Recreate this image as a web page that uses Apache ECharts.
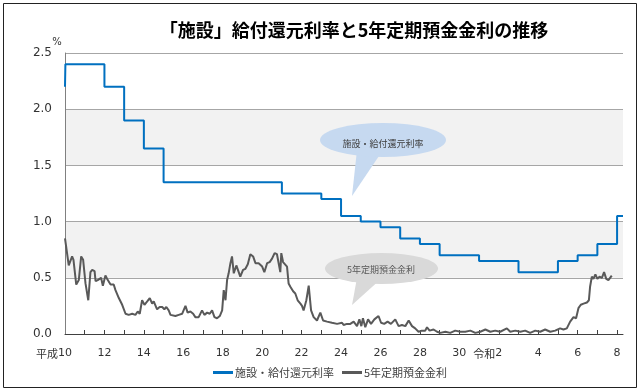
<!DOCTYPE html>
<html><head><meta charset="utf-8">
<script src="https://cdn.jsdelivr.net/npm/echarts@6/dist/echarts.min.js"></script>
<style>html,body{margin:0;padding:0;background:#fff}#c{width:641px;height:391px}</style>
</head><body><div id="c"></div>
<script>
const titleText = '「施設」給付還元利率と5年定期預金金利の推移';
const seriesNames = ['施設・給付還元利率', '5年定期預金金利'];
const unitText = '%';

const xLabelYears = [1998, 2000, 2002, 2004, 2006, 2008, 2010, 2012, 2014, 2016, 2018, 2020, 2022, 2024, 2026];
const xLabelTexts = ['平成10', '12', '14', '16', '18', '20', '22', '24', '26', '28', '30', '令和2', '4', '6', '8'];
const xTickYears = [1999, 2000, 2001, 2002, 2003, 2004, 2005, 2006, 2007, 2008, 2009, 2010, 2011, 2012,
  2013, 2014, 2015, 2016, 2017, 2018, 2019, 2020, 2021, 2022, 2023, 2024, 2025, 2026];

// 施設・給付還元利率 (step changes)
const rateT = [1998.0, 1998.02, 2000, 2001, 2002, 2003, 2009, 2011, 2012, 2013, 2014, 2015, 2016, 2017, 2019, 2021, 2023, 2024, 2025, 2026, 2026.3];
const rateV = [2.2, 2.4, 2.2, 1.9, 1.65, 1.35, 1.25, 1.2, 1.05, 1.0, 0.95, 0.85, 0.8, 0.7, 0.65, 0.55, 0.65, 0.7, 0.8, 1.05, 1.05];

// 5年定期預金金利
const depositT = [1998.0, 1998.19, 1998.36, 1998.43, 1998.57, 1998.70, 1998.82, 1998.92, 1999.04, 1999.18, 1999.29, 1999.38,
  1999.50, 1999.55, 1999.66, 1999.76, 1999.83, 1999.92, 2000.05, 2000.14, 2000.31, 2000.47, 2000.56, 2000.73, 2000.90,
  2001.07, 2001.23, 2001.41, 2001.57, 2001.69, 2001.79, 2001.91, 2002.03, 2002.17, 2002.30, 2002.42, 2002.50, 2002.67,
  2002.80, 2002.93, 2003.04, 2003.14, 2003.26, 2003.35, 2003.60, 2003.77, 2003.94, 2004.11, 2004.22, 2004.36, 2004.50,
  2004.61, 2004.78, 2004.95, 2005.07, 2005.21, 2005.34, 2005.46, 2005.58, 2005.71, 2005.85, 2005.97, 2006.05, 2006.14,
  2006.22, 2006.30, 2006.39, 2006.47, 2006.56, 2006.69, 2006.89, 2007.03, 2007.15, 2007.27, 2007.40, 2007.54, 2007.66,
  2007.82, 2008.00, 2008.11, 2008.25, 2008.38, 2008.50, 2008.63, 2008.75, 2008.84, 2008.92, 2008.97, 2009.06, 2009.14,
  2009.26, 2009.34, 2009.43, 2009.57, 2009.68, 2009.80, 2009.94, 2010.02, 2010.10, 2010.24, 2010.36, 2010.48, 2010.61,
  2010.78, 2010.95, 2011.09, 2011.29, 2011.54, 2011.80, 2012.05, 2012.13, 2012.30, 2012.47, 2012.64, 2012.81, 2012.93,
  2013.03, 2013.11, 2013.23, 2013.37, 2013.52, 2013.69, 2013.90, 2014.03, 2014.19, 2014.36, 2014.53, 2014.75, 2014.92,
  2015.09, 2015.26, 2015.43, 2015.60, 2015.76, 2015.93, 2016.10, 2016.27, 2016.36, 2016.49, 2016.69, 2016.87, 2017.03,
  2017.29, 2017.54, 2017.79, 2018.05, 2018.30, 2018.56, 2018.81, 2019.06, 2019.32, 2019.57, 2019.82, 2020.07, 2020.41,
  2020.58, 2020.84, 2021.09, 2021.34, 2021.59, 2021.85, 2022.10, 2022.35, 2022.61, 2022.86, 2023.11, 2023.28, 2023.45,
  2023.62, 2023.79, 2023.92, 2024.04, 2024.16, 2024.30, 2024.47, 2024.57, 2024.63, 2024.72, 2024.80, 2024.90, 2025.00,
  2025.11, 2025.23, 2025.34, 2025.45, 2025.56, 2025.65, 2025.73];
const depositV = [0.85, 0.61, 0.69, 0.66, 0.44, 0.48, 0.69, 0.66, 0.45, 0.30, 0.55, 0.57,
  0.56, 0.47, 0.48, 0.47, 0.50, 0.43, 0.52, 0.49, 0.44, 0.44, 0.39, 0.32, 0.26,
  0.18, 0.17, 0.18, 0.17, 0.20, 0.18, 0.30, 0.26, 0.29, 0.32, 0.27, 0.29, 0.22,
  0.24, 0.24, 0.22, 0.24, 0.21, 0.17, 0.16, 0.17, 0.18, 0.25, 0.19, 0.20, 0.18,
  0.15, 0.15, 0.21, 0.17, 0.19, 0.18, 0.21, 0.15, 0.14, 0.16, 0.21, 0.39, 0.30,
  0.48, 0.54, 0.63, 0.69, 0.54, 0.61, 0.51, 0.57, 0.58, 0.62, 0.71, 0.69, 0.63,
  0.63, 0.60, 0.55, 0.63, 0.64, 0.67, 0.72, 0.71, 0.72, 0.55, 0.72, 0.64, 0.65,
  0.60, 0.45, 0.42, 0.38, 0.36, 0.30, 0.27, 0.25, 0.21, 0.30, 0.43, 0.21, 0.15,
  0.12, 0.19, 0.12, 0.11, 0.10, 0.09, 0.10, 0.08, 0.09, 0.09, 0.11, 0.07, 0.13,
  0.07, 0.14, 0.06, 0.13, 0.09, 0.13, 0.16, 0.10, 0.09, 0.11, 0.09, 0.13, 0.07,
  0.08, 0.07, 0.12, 0.07, 0.05, 0.02, 0.03, 0.03, 0.06, 0.03, 0.04, 0.02, 0.01,
  0.02, 0.01, 0.03, 0.02, 0.02, 0.03, 0.01, 0.02, 0.04, 0.02, 0.03, 0.02, 0.05,
  0.02, 0.03, 0.02, 0.03, 0.01, 0.03, 0.02, 0.04, 0.02, 0.03, 0.05, 0.04, 0.05,
  0.11, 0.15, 0.14, 0.23, 0.26, 0.27, 0.28, 0.30, 0.42, 0.51, 0.49, 0.53, 0.49,
  0.51, 0.50, 0.55, 0.49, 0.48, 0.49, 0.52];

const numFont = 'DejaVu Sans, Noto Sans CJK JP, sans-serif';
const jpFont = 'Noto Sans CJK JP, sans-serif';

const chart = echarts.init(document.getElementById('c'), null, {renderer: 'canvas'});

function xLabelFormatter(v) {
  const i = xLabelYears.findIndex(y => Math.abs(y - v) < 1e-6);
  if (i < 0) return '';
  const t = xLabelTexts[i];
  const m = t.match(/^(平成|令和)(.*)$/);
  if (m) return '{e|' + m[1] + '}' + m[2] + '{p|}';
  return t;
}

chart.setOption({
  animation: false,
  backgroundColor: '#ffffff',
  grid: {left: 65, right: 18, top: 53, bottom: 57},
  xAxis: {
    type: 'value', min: 1998, max: 2026.3,
    splitLine: {show: false},
    axisLine: {show: true, lineStyle: {color: '#404040', width: 1}},
    axisTick: {show: true, inside: true, length: 4, customValues: xTickYears, lineStyle: {color: '#404040'}},
    axisLabel: {
      customValues: xLabelYears, formatter: xLabelFormatter, margin: 14,
      fontSize: 11, color: '#333333', fontFamily: numFont,
      rich: {
        e: {fontSize: 11, color: '#333333', fontFamily: jpFont},
        p: {width: 22}
      }
    }
  },
  yAxis: {
    type: 'value', min: 0, max: 2.5, interval: 0.5,
    axisLine: {show: true, lineStyle: {color: '#808080', width: 1}},
    axisTick: {show: false},
    splitLine: {show: true, lineStyle: {color: '#a6a6a6', width: 1}},
    splitArea: {show: true, areaStyle: {color: ['rgba(255,255,255,0)', '#f2f2f2']}},
    axisLabel: {formatter: v => v.toFixed(1), fontSize: 12, color: '#333333', fontFamily: numFont, margin: 13}
  },
  legend: {
    left: 208, top: 362, icon: 'rect', itemWidth: 20, itemHeight: 3, itemGap: 8,
    textStyle: {fontSize: 11, color: '#404040', fontFamily: jpFont, padding: [0, 0, 0, -3]},
    data: [seriesNames[0], seriesNames[1]]
  },
  series: [
    {
      name: seriesNames[1], type: 'line', showSymbol: false, symbol: 'none',
      data: depositT.map((t, i) => [t, depositV[i]]),
      lineStyle: {color: '#595959', width: 2}, itemStyle: {color: '#595959'}, z: 2
    },
    {
      name: seriesNames[0], type: 'line', showSymbol: false, symbol: 'none', step: 'end',
      data: rateT.map((t, i) => [t, rateV[i]]),
      lineStyle: {color: '#0070c0', width: 2}, itemStyle: {color: '#0070c0'}, z: 3
    }
  ],
  graphic: [
    {type: 'rect', silent: true, z: 100, shape: {x: 3.5, y: 3.5, width: 633, height: 384},
      style: {fill: 'none', stroke: '#222222', lineWidth: 1}},
    {type: 'text', silent: true, z: 100, x: 354, y: 30,
      style: {text: titleText, font: 'bold 18px Noto Sans CJK JP', fill: '#000000', textAlign: 'center', textVerticalAlign: 'middle'}},
    {type: 'text', silent: true, z: 100, x: 57, y: 42,
      style: {text: unitText, font: '10px DejaVu Sans', fill: '#333333', textAlign: 'center', textVerticalAlign: 'middle'}},
    // blue callout
    {type: 'polygon', silent: true, z: 50, shape: {points: [[357, 150], [383, 150], [352, 196]]}, style: {fill: '#c6d9f0'}},
    {type: 'circle', silent: true, z: 50, x: 383, y: 140, scaleX: 63 / 17, scaleY: 1, shape: {cx: 0, cy: 0, r: 17}, style: {fill: '#c6d9f0'}},
    {type: 'text', silent: true, z: 51, x: 383, y: 144,
      style: {text: seriesNames[0], font: '9px Noto Sans CJK JP', fill: '#404040', textAlign: 'center', textVerticalAlign: 'middle'}},
    // gray callout
    {type: 'polygon', silent: true, z: 50, shape: {points: [[357, 278], [382, 278], [352, 305]]}, style: {fill: '#d9d9d9'}},
    {type: 'circle', silent: true, z: 50, x: 381.5, y: 268.5, scaleX: 56.5 / 15.5, scaleY: 1, shape: {cx: 0, cy: 0, r: 15.5}, style: {fill: '#d9d9d9'}},
    {type: 'text', silent: true, z: 51, x: 381, y: 269.5,
      style: {text: seriesNames[1], font: '9px Noto Sans CJK JP', fill: '#595959', textAlign: 'center', textVerticalAlign: 'middle'}}
  ]
});
</script></body></html>
